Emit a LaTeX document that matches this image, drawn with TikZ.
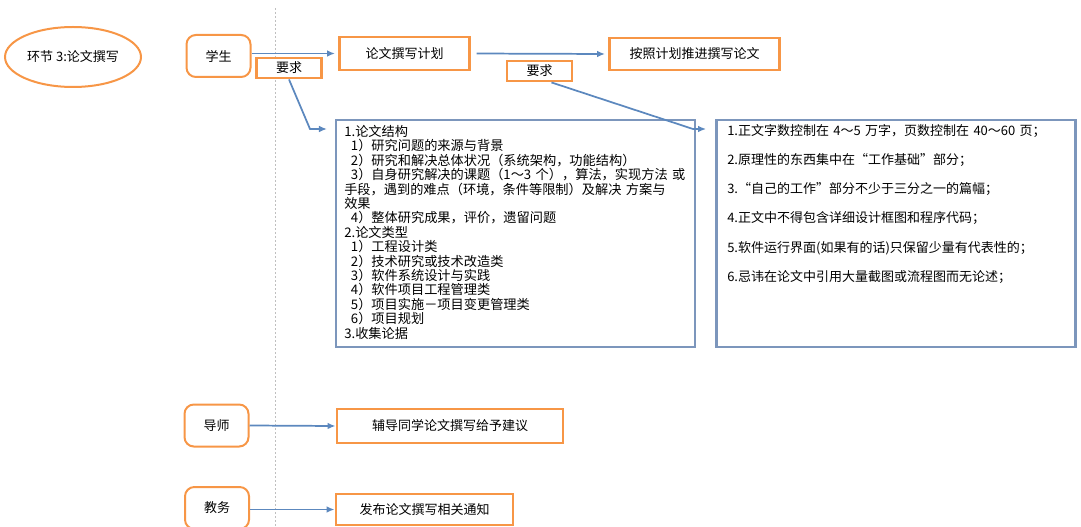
\documentclass[tikz,border=0pt]{standalone}
\usepackage{fontspec}
\newfontfamily\cjk{Noto Sans CJK SC}
\usepackage{xcolor}
\usepackage{tikz}
\usetikzlibrary{positioning,shapes,arrows.meta,calc}
\definecolor{boxorange}{RGB}{247,150,70}
\definecolor{lineblue}{RGB}{92,136,190}
\definecolor{frameblue}{RGB}{124,150,188}

\begin{document}
\begin{tikzpicture}[x=0.75pt, y=-0.75pt,
    every node/.style={font=\cjk\fontsize{9.75}{11}\selectfont, inner sep=0pt},
    stagebox/.style={draw=boxorange, line width=1.5pt, ellipse, fill=white, minimum width=102pt, minimum height=45pt},
    rolebox/.style={draw=boxorange, line width=1.5pt, rounded corners=7pt, fill=white, minimum width=48pt, minimum height=31.5pt},
    taskbox/.style={draw=boxorange, line width=2.2pt, rectangle, fill=white},
    notebox/.style={draw=frameblue, line width=1.8pt, rectangle, fill=white, minimum width=269pt, minimum height=170pt},
    flow/.style={draw=lineblue, line width=1.3pt, -{Latex[length=6pt,width=5pt]}},
    guide/.style={draw=gray!50, line width=0.6pt, dash pattern=on 1.5pt off 1.5pt}]
    \useasboundingbox (0,0) rectangle (1081,527);

    \coordinate (laneTop) at (275,8);
    \coordinate (laneBottom) at (275,527);
    \draw[guide] (laneTop) -- (laneBottom);

    \node[stagebox] (stage) at (73,57) {环节 3:论文撰写};

    \node[rolebox] (stu) at (218.5,56) {学生};
    \node[rolebox] (tutor) at (216.5,425.5) {导师};
    \node[rolebox] (office) at (217,508) {教务};

    \node[taskbox, minimum width=98pt, minimum height=24.75pt] (plan) at (404.5,53.5) {论文撰写计划};
    \node[taskbox, minimum width=128pt, minimum height=24pt] (write) at (694.5,54) {按照计划推进撰写论文};
    \node[taskbox, minimum width=48.75pt, minimum height=15pt] (req1) at (289,68) {要求};
    \node[taskbox, minimum width=48.75pt, minimum height=15pt] (req2) at (539.5,71) {要求};
    \node[taskbox, minimum width=169.5pt, minimum height=25.5pt] (advise) at (450,426) {辅导同学论文撰写给予建议};
    \node[taskbox, minimum width=132.75pt, minimum height=23.25pt] (notice) at (424.5,509.5) {发布论文撰写相关通知};

    \node[notebox] (struct) at (515.5,233.5) {};
    \node[notebox] (rules) at (896,233.5) {};

    \node[anchor=north west, text width=300pt, align=left, font=\cjk\fontsize{9.9}{10.8}\selectfont] (structtext) at (344,125) {%
        1.论文结构\\
        \hspace*{5pt}1）研究问题的来源与背景\\
        \hspace*{5pt}2）研究和解决总体状况（系统架构，功能结构）\\
        \hspace*{5pt}3）自身研究解决的课题（1～3 个），算法，实现方法 或\\
        手段，遇到的难点（环境，条件等限制）及解决 方案与\\
        效果\\
        \hspace*{5pt}4）整体研究成果，评价，遗留问题\\
        2.论文类型\\
        \hspace*{5pt}1）工程设计类\\
        \hspace*{5pt}2）技术研究或技术改造类\\
        \hspace*{5pt}3）软件系统设计与实践\\
        \hspace*{5pt}4）软件项目工程管理类\\
        \hspace*{5pt}5）项目实施－项目变更管理类\\
        \hspace*{5pt}6）项目规划\\
        3.收集论据};

    \node[anchor=north west, text width=300pt, align=left, font=\cjk\fontsize{9.75}{21.9}\selectfont] (rulestext) at (727,124) {%
        1.正文字数控制在 4～5 万字，页数控制在 40～60 页；\\
        2.原理性的东西集中在“工作基础”部分；\\
        3.“自己的工作”部分不少于三分之一的篇幅；\\
        4.正文中不得包含详细设计框图和程序代码；\\
        5.软件运行界面(如果有的话)只保留少量有代表性的；\\
        6.忌讳在论文中引用大量截图或流程图而无论述；};

    \coordinate (bendA) at (310,129);
    \coordinate (bendB) at (693,129);

    \draw[flow, shorten >=2pt] (stu.east |- plan.west) -- (plan.west);
    \draw[flow, shorten <=4pt, shorten >=2pt] (plan.east) -- (write.west);
    \draw[flow, shorten >=6pt] (req1.south) -- (bendA) -- (bendA -| struct.west);
    \draw[flow, shorten >=7pt] ([xshift=9pt]req2.south) -- (bendB) -- (bendB -| rules.west);
    \draw[flow] (tutor.east) -- (advise.west);
    \draw[flow] (office.east |- notice.west) -- (notice.west);
\end{tikzpicture}
\end{document}
